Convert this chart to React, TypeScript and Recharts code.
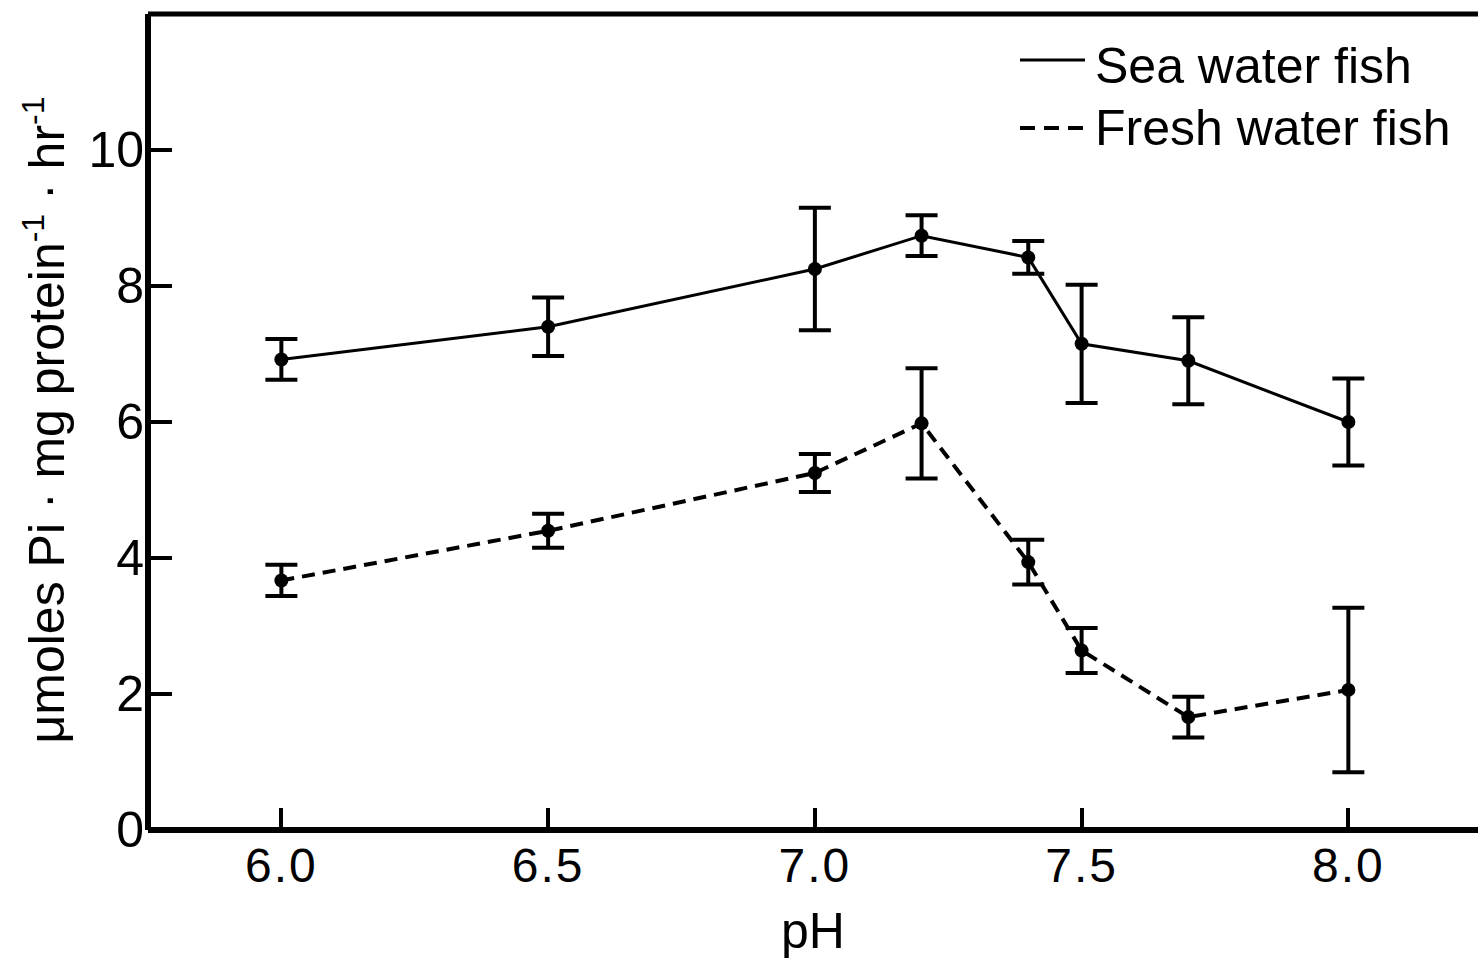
import React from 'react';
import { ComposedChart, Line, XAxis, YAxis, ErrorBar, ReferenceLine, Legend } from 'recharts';

const phValues = [6.0, 6.5, 7.0, 7.2, 7.4, 7.5, 7.7, 8.0];
const seaWater = [6.92, 7.4, 8.25, 8.74, 8.42, 7.15, 6.9, 6.0];
const seaErr = [0.3, 0.43, 0.9, 0.3, 0.24, 0.87, 0.64, 0.64];
const freshWater = [3.67, 4.4, 5.25, 5.98, 3.94, 2.64, 1.66, 2.06];
const freshErr = [0.23, 0.25, 0.28, 0.81, 0.33, 0.33, 0.3, 1.21];
const xTicks = [6.0, 6.5, 7.0, 7.5, 8.0];
const yTicks = [0, 2, 4, 6, 8, 10];
const seriesNames = ['Sea water fish', 'Fresh water fish'];

const data = phValues.map((ph, i) => ({
  ph,
  sea: seaWater[i],
  seaErr: seaErr[i],
  fresh: freshWater[i],
  freshErr: freshErr[i],
}));

const FONT = '"Liberation Sans", Arial, sans-serif';

const XTick = (props: any) => {
  const { x, y, payload } = props;
  return (
    <g>
      <rect x={Math.round(x) - 2} y={y - 22} width={4} height={22} fill="#000000" />
      <text x={x} y={y + 52} textAnchor="middle" fontFamily={FONT} fontSize={48} fill="#000" letterSpacing={2}>
        {Number(payload.value).toFixed(1)}
      </text>
    </g>
  );
};

const YTick = (props: any) => {
  const { x, y, payload } = props;
  return (
    <g>
      {payload.value !== 0 && <rect x={x} y={Math.round(y) - 2} width={24} height={4} fill="#000000" />}
      <text x={x - 4} y={y + 17} textAnchor="end" fontFamily={FONT} fontSize={50} fill="#000">
        {payload.value}
      </text>
    </g>
  );
};

const YLabel = (props: any) => {
  const vb = props.viewBox || { x: 0, y: 14, width: 148, height: 816 };
  const cx = vb.x + 64;
  const cy = vb.y + vb.height / 2 - 2;
  return (
    <text
      x={cx}
      y={cy}
      transform={`rotate(-90 ${cx} ${cy})`}
      textAnchor="middle"
      fontFamily={FONT}
      fontSize={50}
      fill="#000"
    >
      <tspan>μmoles Pi · mg protein</tspan>
      <tspan dy={-20} fontSize={32}>-1</tspan>
      <tspan dy={20}> · hr</tspan>
      <tspan dy={-20} fontSize={32}>-1</tspan>
    </text>
  );
};

const XLabel = (props: any) => {
  const vb = props.viewBox || { x: 148, y: 830, width: 1330, height: 137 };
  return (
    <text x={vb.x + vb.width / 2} y={vb.y + 118} textAnchor="middle" fontFamily={FONT} fontSize={50} fill="#000">
      pH
    </text>
  );
};

const LegendContent = () => (
  <svg width={468} height={140} style={{ display: 'block' }}>
    <rect x={10} y={33.5} width={65} height={3} fill="#000" />
    <text x={85} y={58} fontFamily={FONT} fontSize={50} fill="#000">{seriesNames[0]}</text>
    <path d="M10 103 H75" stroke="#000" strokeWidth={4} strokeDasharray="15 9" fill="none" />
    <text x={85} y={120} fontFamily={FONT} fontSize={50} fill="#000">{seriesNames[1]}</text>
  </svg>
);

export default function App() {
  return (
    <div style={{ position: 'absolute', left: 0, top: 0, width: 1478, height: 967, background: '#fff', overflow: 'hidden' }}>
      <ComposedChart width={1478} height={967} data={data} margin={{ top: 14, right: 0, bottom: 0, left: 0 }}>
        <XAxis
          dataKey="ph"
          type="number"
          domain={[5.75, 8.243]}
          ticks={xTicks}
          allowDataOverflow
          height={137}
          tickSize={0}
          tickMargin={0}
          tickLine={false}
          tick={XTick}
          axisLine={{ stroke: '#000', strokeWidth: 6 }}
          label={<XLabel />}
          interval={0}
        />
        <YAxis
          type="number"
          domain={[0, 12]}
          ticks={yTicks}
          allowDataOverflow
          width={148}
          tickSize={0}
          tickMargin={0}
          tickLine={false}
          tick={YTick}
          axisLine={{ stroke: '#000', strokeWidth: 6 }}
          label={<YLabel />}
          interval={0}
        />
        <ReferenceLine y={12} stroke="#000" strokeWidth={5} />
        <Legend
          layout="vertical"
          align="center"
          verticalAlign="middle"
          content={<LegendContent />}
          wrapperStyle={{ left: 1010, top: 25, width: 468, height: 140 }}
        />
        <Line
          dataKey="sea"
          name={seriesNames[0]}
          type="linear"
          stroke="#000"
          strokeWidth={3}
          dot={{ r: 7, fill: '#000', stroke: 'none' }}
          activeDot={false}
          isAnimationActive={false}
        >
          <ErrorBar dataKey="seaErr" direction="y" width={16} strokeWidth={4} stroke="#000" isAnimationActive={false} />
        </Line>
        <Line
          dataKey="fresh"
          name={seriesNames[1]}
          type="linear"
          stroke="#000"
          strokeWidth={4}
          strokeDasharray="13 8"
          dot={{ r: 7, fill: '#000', stroke: 'none', strokeDasharray: '0' }}
          activeDot={false}
          isAnimationActive={false}
        >
          <ErrorBar dataKey="freshErr" direction="y" width={16} strokeWidth={4} stroke="#000" isAnimationActive={false} />
        </Line>
      </ComposedChart>
    </div>
  );
}
